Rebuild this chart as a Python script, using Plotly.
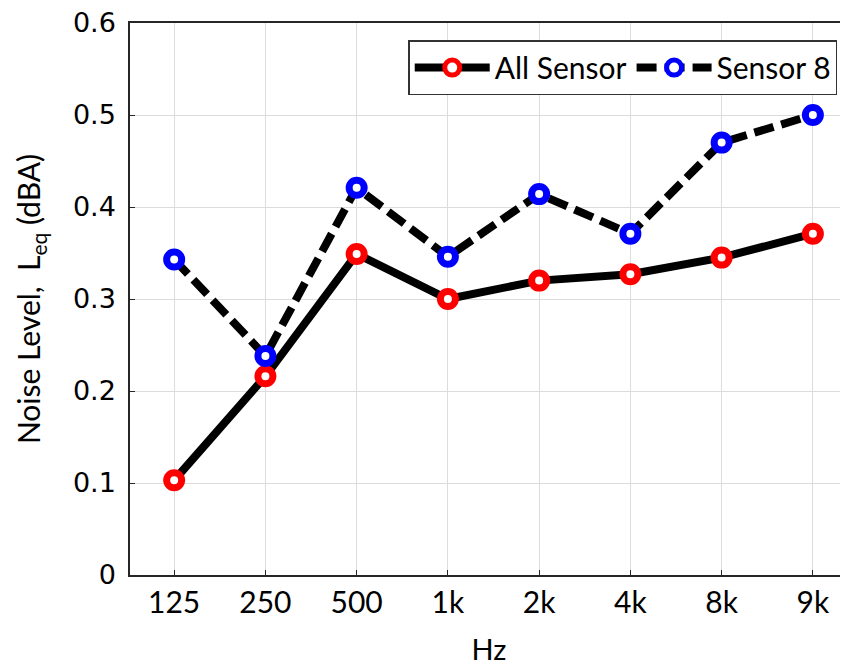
import plotly.graph_objects as go

categories = ["125", "250", "500", "1k", "2k", "4k", "8k", "9k"]
all_sensor = [0.103, 0.216, 0.349, 0.300, 0.320, 0.327, 0.345, 0.371]
sensor_8 = [0.343, 0.238, 0.421, 0.346, 0.414, 0.371, 0.470, 0.500]
y_ticks = [0, 0.1, 0.2, 0.3, 0.4, 0.5, 0.6]
y_ticklabels = ["0", "0.1", "0.2", "0.3", "0.4", "0.5", "0.6"]

xi = list(range(len(categories)))

fig = go.Figure()
fig.add_trace(go.Scatter(
    x=xi, y=all_sensor, name="All Sensor", mode="lines+markers",
    line=dict(color="black", width=8),
    marker=dict(symbol="circle", size=15, color="white",
                line=dict(color="#ff0000", width=7)),
))
fig.add_trace(go.Scatter(
    x=xi, y=sensor_8, name="Sensor 8", mode="lines+markers",
    line=dict(color="black", width=8, dash="20px,8px"),
    marker=dict(symbol="circle", size=15, color="white",
                line=dict(color="#0000ff", width=7)),
))

fig.update_layout(
    width=848, height=666,
    margin=dict(l=122, r=8, t=15, b=99, autoexpand=False),
    paper_bgcolor="white", plot_bgcolor="white",
    showlegend=True,
    legend=dict(
        orientation="h", x=0.985, y=0.969, xanchor="right", yanchor="top",
        bgcolor="white", bordercolor="#333333", borderwidth=1.5,
        font=dict(family="Lato", size=30, color="black"),
        itemwidth=75, tracegroupgap=0,
    ),
    xaxis=dict(
        tickmode="array", tickvals=xi, ticktext=categories,
        range=[-0.484, 7.385], automargin=False,
        showgrid=True, gridcolor="#dcdcdc", gridwidth=1,
        showline=True, linecolor="#262626", linewidth=1.5, mirror=True,
        ticks="inside", ticklen=5, tickcolor="#262626",
        tickfont=dict(family="Lato", size=30, color="black"),
        title=dict(text="Hz", font=dict(family="Lato", size=29, color="black"), standoff=22),
        zeroline=False,
    ),
    yaxis=dict(
        range=[0, 0.6], tickmode="array", tickvals=y_ticks, ticktext=y_ticklabels,
        automargin=False, ticklabelstandoff=7, ticklabeloverflow="allow",
        showgrid=True, gridcolor="#dcdcdc", gridwidth=1,
        showline=True, linecolor="#262626", linewidth=1.5,
        ticks="inside", ticklen=5, tickcolor="#262626",
        tickfont=dict(family="DejaVu Sans", size=27, color="black"),
        title=dict(text="Noise Level,  L<sub>eq</sub> (dBA)",
                   font=dict(family="Lato", size=30, color="black"), standoff=23),
        zeroline=False,
    ),
)

fig.write_html("out.html")
